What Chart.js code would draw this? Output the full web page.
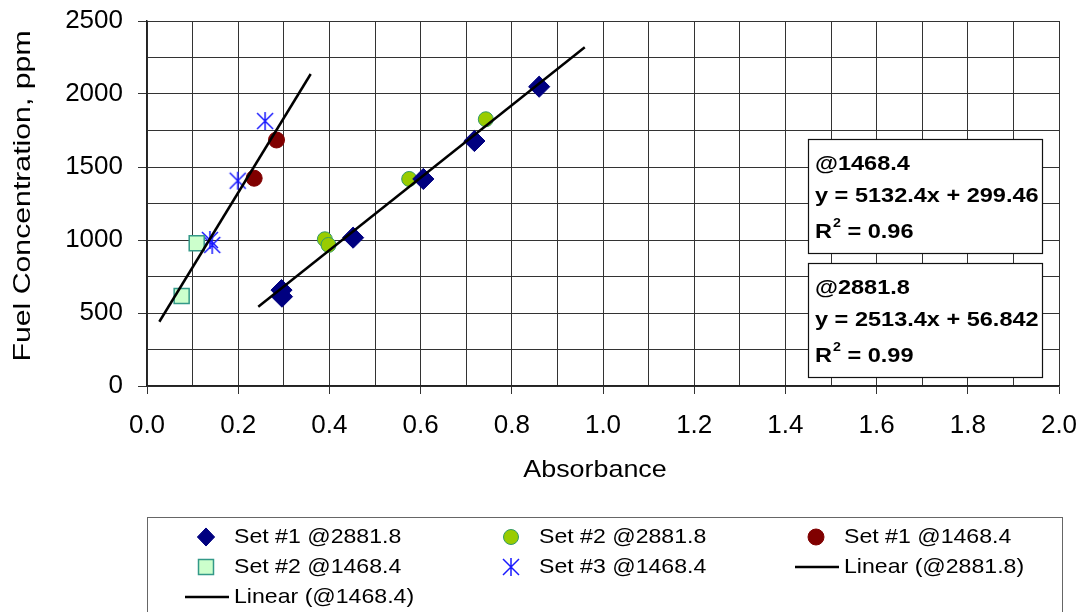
<!DOCTYPE html>
<html>
<head>
<meta charset="utf-8">
<script src="https://cdn.jsdelivr.net/npm/chart.js@4.4.1/dist/chart.umd.min.js"></script>
<style>
  html, body { margin: 0; padding: 0; background: #fff; }
</style>
</head>
<body>
<canvas id="fuelChart" width="1086" height="612"></canvas>
<script>
// Absorbance readings (x) and fuel concentration in ppm (y)
const set1_2881_x = [0.295, 0.296, 0.452, 0.606, 0.718, 0.860];
const set1_2881_y = [657, 612, 1016, 1418, 1678, 2050];

const set2_2881_x = [0.390, 0.398, 0.575, 0.743];
const set2_2881_y = [1005, 966, 1418, 1827];

const set1_1468_x = [0.235, 0.284];
const set1_1468_y = [1423, 1685];

const set2_1468_x = [0.076, 0.109];
const set2_1468_y = [616, 977];

const set3_1468_x = [0.259, 0.199, 0.138, 0.143];
const set3_1468_y = [1815, 1406, 1000, 966];

// trend line end points
const linear_2881_x = [0.244, 0.960];
const linear_2881_y = [543, 2320];
const linear_1468_x = [0.027, 0.359];
const linear_1468_y = [440, 2137];

const xTickLabels = ['0.0', '0.2', '0.4', '0.6', '0.8', '1.0', '1.2', '1.4', '1.6', '1.8', '2.0'];
const yTickLabels = ['0', '500', '1000', '1500', '2000', '2500'];

const seriesNames = ['Set #1 @2881.8', 'Set #2 @2881.8', 'Set #1 @1468.4', 'Set #2 @1468.4',
                     'Set #3 @1468.4', 'Linear (@2881.8)', 'Linear (@1468.4)'];

// regression labels shown in the boxes
const fitNames = ['@1468.4', '@2881.8'];
const fitEquations = ['y = 5132.4x + 299.46', 'y = 2513.4x + 56.842'];
const fitR2 = ['0.96', '0.99'];

const FONT = '"Liberation Sans", Arial, sans-serif';

function toPoints(xs, ys) {
    return xs.map((x, i) => ({ x: x, y: ys[i] }));
}

// asterisk marker: an X with a vertical stroke
const starMarker = document.createElement('canvas');
starMarker.width = 20;
starMarker.height = 20;
(function () {
    const c = starMarker.getContext('2d');
    c.strokeStyle = '#1a1aff';
    c.lineWidth = 1.5;
    c.beginPath();
    c.moveTo(2, 2); c.lineTo(18, 18);
    c.moveTo(18, 2); c.lineTo(2, 18);
    c.moveTo(10, 1); c.lineTo(10, 19);
    c.stroke();
})();

// draw text stretched horizontally
function wideText(ctx, str, x, y, sx) {
    ctx.save();
    ctx.translate(x, y);
    ctx.scale(sx, 1);
    ctx.fillText(str, 0, 0);
    const w = ctx.measureText(str).width * sx;
    ctx.restore();
    return w;
}

// legend symbol, same geometry as Chart.js point styles
function drawMarker(ctx, ds, x, y) {
    const style = ds.pointStyle;
    if (style instanceof HTMLCanvasElement) {
        ctx.drawImage(style, x - style.width / 2, y - style.height / 2);
        return;
    }
    const r = ds.pointRadius;
    ctx.fillStyle = ds.pointBackgroundColor;
    ctx.strokeStyle = ds.pointBorderColor;
    ctx.lineWidth = ds.pointBorderWidth;
    ctx.beginPath();
    if (style === 'circle') {
        ctx.arc(x, y, r, 0, Math.PI * 2);
    } else if (style === 'rectRot') {
        const d = r * Math.SQRT1_2 * 1.15;
        ctx.moveTo(x - d, y); ctx.lineTo(x, y - d * 1.05); ctx.lineTo(x + d, y); ctx.lineTo(x, y + d * 1.05);
        ctx.closePath();
    } else {
        const s = r * Math.SQRT1_2;
        ctx.rect(x - s, y - s, 2 * s, 2 * s);
    }
    ctx.fill();
    if (ds.pointBorderWidth) ctx.stroke();
}

// axis titles, regression boxes and the legend
const decorPlugin = {
    id: 'decor',
    afterDraw(chart) {
        const ctx = chart.ctx;
        ctx.save();
        ctx.fillStyle = '#000';
        ctx.textBaseline = 'middle';

        // axis titles
        ctx.font = '24px ' + FONT;
        ctx.textAlign = 'center';
        wideText(ctx, 'Absorbance', 595, 470, 1.12);
        ctx.save();
        ctx.translate(23, 196);
        ctx.rotate(-Math.PI / 2);
        wideText(ctx, 'Fuel Concentration, ppm', 0, 0, 1.26);
        ctx.restore();

        // regression boxes
        ctx.textAlign = 'left';
        const boxTops = [139, 263];
        boxTops.forEach((top, i) => {
            ctx.fillStyle = '#fff';
            ctx.fillRect(808.5, top + 0.5, 234, 114);
            ctx.strokeStyle = '#111';
            ctx.lineWidth = 1.2;
            ctx.strokeRect(808.5, top + 0.5, 234, 114);
            ctx.fillStyle = '#000';
            ctx.font = 'bold 21px ' + FONT;
            wideText(ctx, fitNames[i], 815, top + 25, 1.12);
            wideText(ctx, fitEquations[i], 815, top + 57, 1.12);
            const w = wideText(ctx, 'R', 815, top + 93, 1.12);
            ctx.font = 'bold 13px ' + FONT;
            const w2 = wideText(ctx, '2', 815 + w + 1, top + 84, 1.1);
            ctx.font = 'bold 21px ' + FONT;
            wideText(ctx, ' = ' + fitR2[i], 815 + w + w2 + 1, top + 93, 1.12);
        });

        // legend
        ctx.strokeStyle = '#666';
        ctx.lineWidth = 1;
        ctx.strokeRect(147.5, 517.5, 915, 140);
        const colMarker = [206, 511, 816];
        const rowY = [537, 567, 597];
        ctx.font = '21px ' + FONT;
        chart.data.datasets.forEach((ds, i) => {
            const mx = colMarker[i % 3];
            const my = rowY[Math.floor(i / 3)];
            if (ds.showLine) {
                ctx.strokeStyle = ds.borderColor;
                ctx.lineWidth = ds.borderWidth;
                ctx.beginPath();
                ctx.moveTo(mx - 21, my);
                ctx.lineTo(mx + 23, my);
                ctx.stroke();
            } else {
                drawMarker(ctx, ds, mx, my);
            }
            ctx.fillStyle = '#000';
            wideText(ctx, ds.label, mx + 28, my, 1.1);
        });
        ctx.restore();
    }
};

const fuelConfig = {
    type: 'scatter',
    data: {
        datasets: [
            {
                label: seriesNames[0],
                data: toPoints(set1_2881_x, set1_2881_y),
                pointStyle: 'rectRot',
                pointRadius: 10.6,
                pointBackgroundColor: '#000080',
                pointBorderColor: '#000080',
                pointBorderWidth: 1
            },
            {
                label: seriesNames[1],
                data: toPoints(set2_2881_x, set2_2881_y),
                pointStyle: 'circle',
                pointRadius: 7.5,
                pointBackgroundColor: '#99cc00',
                pointBorderColor: '#339966',
                pointBorderWidth: 1
            },
            {
                label: seriesNames[2],
                data: toPoints(set1_1468_x, set1_1468_y),
                pointStyle: 'circle',
                pointRadius: 8,
                pointBackgroundColor: '#800000',
                pointBorderColor: '#800000',
                pointBorderWidth: 1
            },
            {
                label: seriesNames[3],
                data: toPoints(set2_1468_x, set2_1468_y),
                pointStyle: 'rect',
                pointRadius: 10.6,
                pointBackgroundColor: '#ccffcc',
                pointBorderColor: '#339988',
                pointBorderWidth: 1.5
            },
            {
                label: seriesNames[4],
                data: toPoints(set3_1468_x, set3_1468_y),
                pointStyle: starMarker,
                pointRadius: 9
            },
            {
                label: seriesNames[5],
                data: toPoints(linear_2881_x, linear_2881_y),
                showLine: true,
                pointRadius: 0,
                borderColor: '#000',
                borderWidth: 2.5,
                order: -1
            },
            {
                label: seriesNames[6],
                data: toPoints(linear_1468_x, linear_1468_y),
                showLine: true,
                pointRadius: 0,
                borderColor: '#000',
                borderWidth: 2.5,
                order: -1
            }
        ]
    },
    options: {
        responsive: false,
        animation: false,
        events: [],
        layout: { padding: { top: 21, right: 27, bottom: 0, left: 0 } },
        plugins: {
            legend: { display: false },
            tooltip: { enabled: false }
        },
        scales: {
            x: {
                type: 'linear',
                min: 0,
                max: 2,
                afterFit: (scale) => {
                    scale.height = 226;
                    scale.paddingLeft = 0;
                    scale.paddingRight = 0;
                },
                ticks: {
                    stepSize: 0.1,
                    autoSkip: false,
                    maxRotation: 0,
                    padding: 16,
                    color: '#000',
                    font: { family: FONT, size: 26 },
                    callback: (v, i) => (i % 2 ? '' : xTickLabels[i / 2])
                },
                grid: {
                    color: '#333',
                    lineWidth: 1,
                    tickLength: 8,
                    tickColor: (c) => (c.index % 2 ? 'rgba(0,0,0,0)' : '#333')
                },
                border: { color: '#222', width: 1.5 }
            },
            y: {
                type: 'linear',
                min: 0,
                max: 2500,
                afterFit: (scale) => {
                    scale.width = 147;
                    scale.paddingTop = 0;
                    scale.paddingBottom = 0;
                },
                ticks: {
                    stepSize: 250,
                    autoSkip: false,
                    padding: 15,
                    color: '#000',
                    font: { family: FONT, size: 26 },
                    callback: (v, i) => (i % 2 ? '' : yTickLabels[i / 2])
                },
                grid: {
                    color: '#333',
                    lineWidth: 1,
                    tickLength: 9,
                    tickColor: (c) => (c.index % 2 ? 'rgba(0,0,0,0)' : '#333')
                },
                border: { color: '#222', width: 1.5 }
            }
        }
    },
    plugins: [decorPlugin]
};

const fuelChart = new Chart(document.getElementById('fuelChart'), fuelConfig);
</script>
</body>
</html>
